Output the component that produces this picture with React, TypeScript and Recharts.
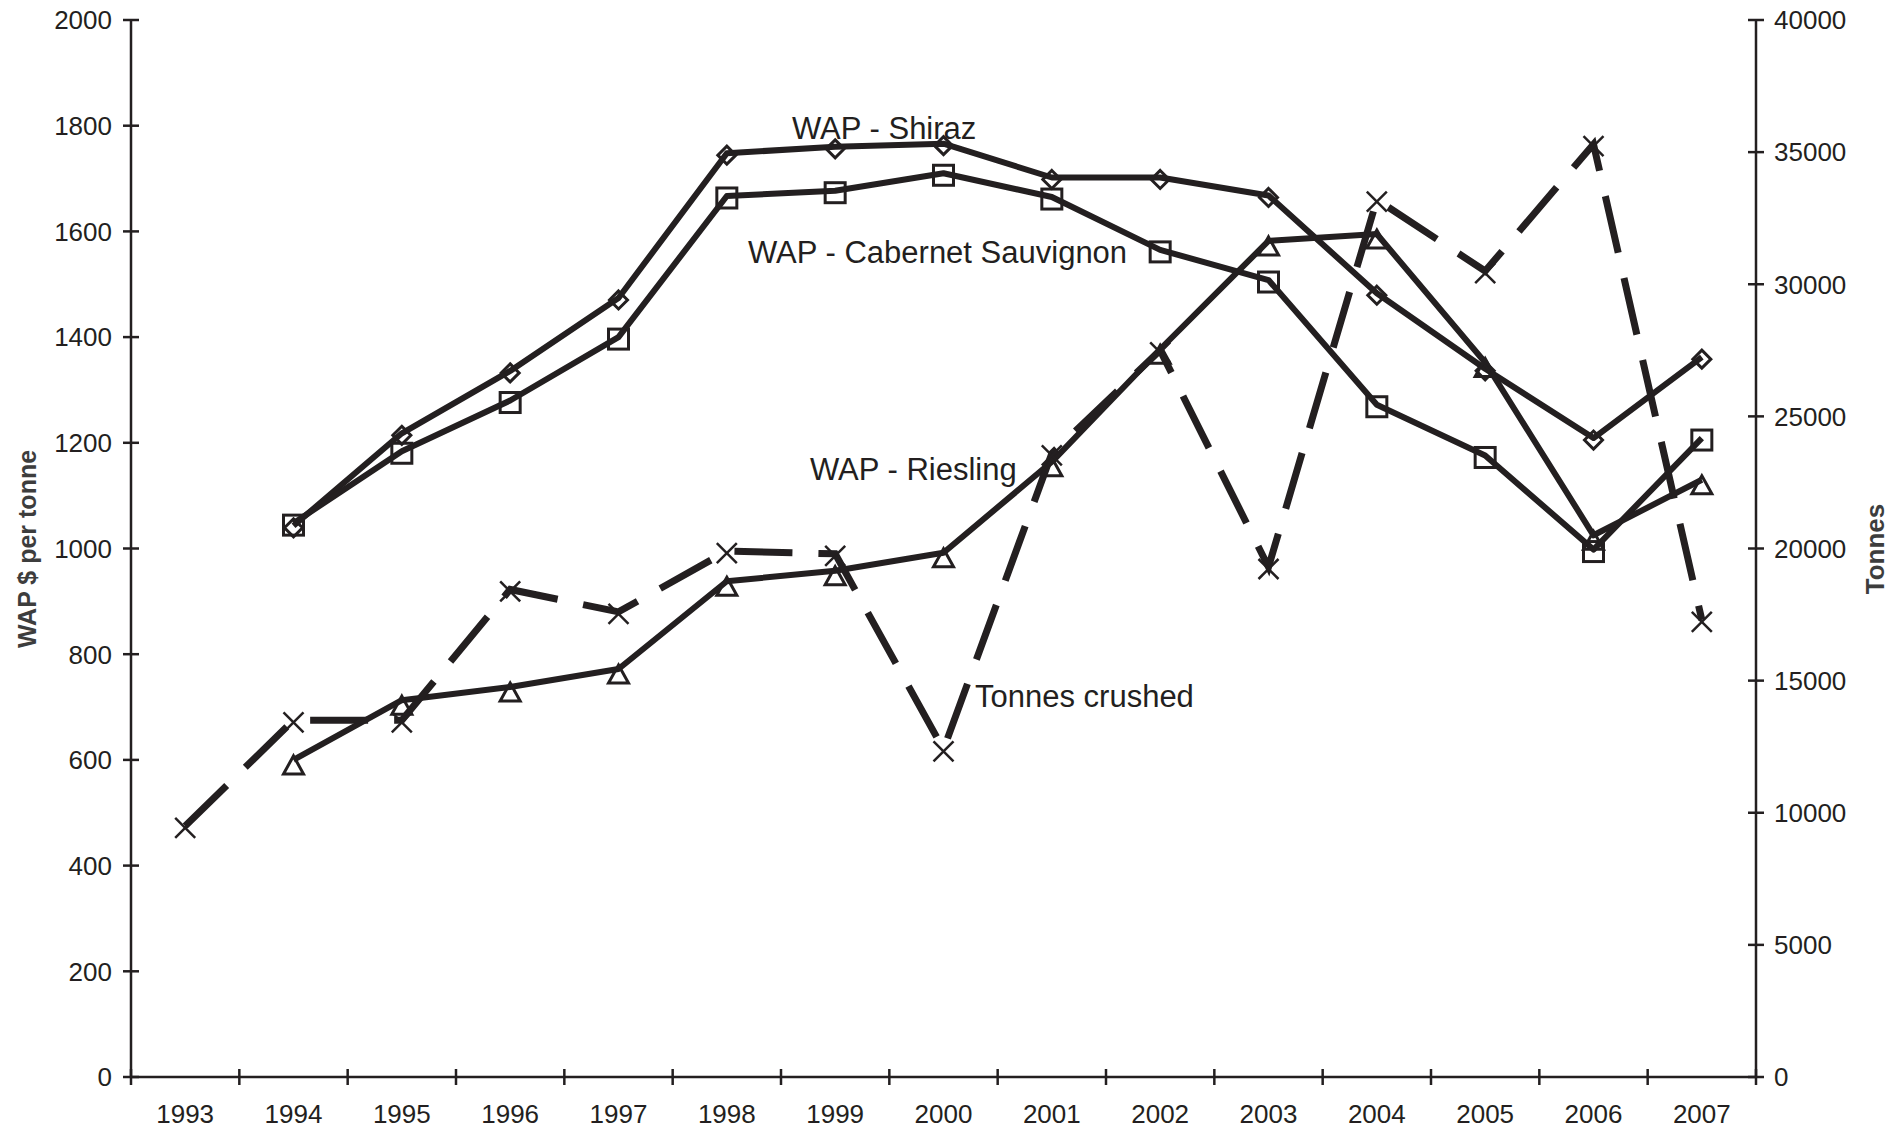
import { LineChart, Line, XAxis, YAxis } from 'recharts';

// values
const years = ['1993', '1994', '1995', '1996', '1997', '1998', '1999', '2000', '2001', '2002', '2003', '2004', '2005', '2006', '2007'];
const shiraz = [null, 1043, 1218, 1336, 1474, 1748, 1760, 1766, 1702, 1702, 1668, 1483, 1340, 1209, 1362];
const cabernet = [null, 1048, 1184, 1280, 1400, 1667, 1677, 1710, 1665, 1565, 1508, 1272, 1176, 998, 1209];
const riesling = [null, 600, 713, 738, 772, 938, 958, 992, 1164, 1377, 1582, 1595, 1352, 1025, 1130];
const tonnes = [9500, 13500, 13500, 18450, 17600, 19900, 19800, 12400, 23600, 27500, 19300, 33200, 30500, 35300, 17300];

const leftTicks = [0, 200, 400, 600, 800, 1000, 1200, 1400, 1600, 1800, 2000];
const rightTicks = [0, 5000, 10000, 15000, 20000, 25000, 30000, 35000, 40000];

const data = years.map((year, i) => ({
  year,
  shiraz: shiraz[i],
  cabernet: cabernet[i],
  riesling: riesling[i],
  tonnes: tonnes[i],
}));

const W = 1903;
const H = 1131;
const PLOT_LEFT = 131;
const PLOT_RIGHT = 1756;
const PLOT_TOP = 20;
const PLOT_BOTTOM = 1077;
const BAND = (PLOT_RIGHT - PLOT_LEFT) / years.length;

const INK = '#231f20';
const FONT = '"Liberation Sans", Arial, sans-serif';
const AXIS_W = 2.5;

const LeftTick = (props: any) => {
  const { y, payload } = props;
  return (
    <g>
      <line x1={PLOT_LEFT - 8} x2={PLOT_LEFT + 8} y1={y} y2={y} stroke={INK} strokeWidth={AXIS_W} />
      <text x={PLOT_LEFT - 19} y={y} dy="0.36em" textAnchor="end" fontSize={26} fontFamily={FONT} fill={INK}>
        {payload.value}
      </text>
    </g>
  );
};

const RightTick = (props: any) => {
  const { y, payload } = props;
  return (
    <g>
      <line x1={PLOT_RIGHT - 8} x2={PLOT_RIGHT + 8} y1={y} y2={y} stroke={INK} strokeWidth={AXIS_W} />
      <text x={PLOT_RIGHT + 18} y={y} dy="0.36em" textAnchor="start" fontSize={26} fontFamily={FONT} fill={INK}>
        {payload.value}
      </text>
    </g>
  );
};

// category boundaries get the tick marks, labels sit in the middle
const XTick = (props: any) => {
  const { x, payload } = props;
  const isLast = payload.value === years[years.length - 1];
  const b = x - BAND / 2;
  return (
    <g>
      <line x1={b} x2={b} y1={PLOT_BOTTOM - 8} y2={PLOT_BOTTOM + 8} stroke={INK} strokeWidth={AXIS_W} />
      {isLast && (
        <line x1={x + BAND / 2} x2={x + BAND / 2} y1={PLOT_BOTTOM - 8} y2={PLOT_BOTTOM + 8} stroke={INK} strokeWidth={AXIS_W} />
      )}
      <text x={x} y={PLOT_BOTTOM + 46} textAnchor="middle" fontSize={26} fontFamily={FONT} fill={INK}>
        {payload.value}
      </text>
    </g>
  );
};

const Diamond = (props: any) => {
  const { cx, cy, index } = props;
  if (cy == null) return <g key={`d${index}`} />;
  const r = 9;
  const y = cy + 2;
  return (
    <polygon
      key={`d${index}`}
      points={`${cx},${y - r} ${cx + r},${y} ${cx},${y + r} ${cx - r},${y}`}
      fill="none"
      stroke={INK}
      strokeWidth={3}
    />
  );
};

const Square = (props: any) => {
  const { cx, cy, index } = props;
  if (cy == null) return <g key={`s${index}`} />;
  const s = 20;
  return <rect key={`s${index}`} x={cx - s / 2} y={cy - s / 2 + 2} width={s} height={s} fill="none" stroke={INK} strokeWidth={3} />;
};

const Triangle = (props: any) => {
  const { cx, cy, index } = props;
  if (cy == null) return <g key={`t${index}`} />;
  return (
    <polygon
      key={`t${index}`}
      points={`${cx},${cy - 4} ${cx + 10},${cy + 14} ${cx - 10},${cy + 14}`}
      fill="none"
      stroke={INK}
      strokeWidth={3}
    />
  );
};

const Cross = (props: any) => {
  const { cx, cy, index } = props;
  if (cy == null) return <g key={`x${index}`} />;
  const r = 10;
  return (
    <g key={`x${index}`}>
      <line x1={cx - r} y1={cy - r + 2} x2={cx + r} y2={cy + r + 2} stroke={INK} strokeWidth={2.5} />
      <line x1={cx - r} y1={cy + r + 2} x2={cx + r} y2={cy - r + 2} stroke={INK} strokeWidth={2.5} />
    </g>
  );
};

const App = () => {
  return (
    <div style={{ position: 'absolute', left: 0, top: 0, width: W, height: H, background: '#fff' }}>
      <LineChart
        width={W}
        height={H}
        data={data}
        margin={{ top: PLOT_TOP, right: 0, bottom: 0, left: 0 }}
      >
        <XAxis
          dataKey="year"
          height={H - PLOT_BOTTOM}
          interval={0}
          padding={{ left: BAND / 2, right: BAND / 2 }}
          tickLine={false}
          tickSize={8}
          tickMargin={20}
          axisLine={{ stroke: INK, strokeWidth: AXIS_W }}
          tick={<XTick />}
        />
        <YAxis
          yAxisId="left"
          domain={[0, 2000]}
          ticks={leftTicks}
          interval={0}
          width={PLOT_LEFT}
          tickLine={false}
          tickSize={8}
          tickMargin={11}
          axisLine={{ stroke: INK, strokeWidth: AXIS_W }}
          tick={<LeftTick />}
        />
        <YAxis
          yAxisId="right"
          orientation="right"
          domain={[0, 40000]}
          ticks={rightTicks}
          interval={0}
          width={W - PLOT_RIGHT}
          tickLine={false}
          tickSize={8}
          tickMargin={10}
          axisLine={{ stroke: INK, strokeWidth: AXIS_W }}
          tick={<RightTick />}
        />
        <Line
          yAxisId="left"
          type="linear"
          dataKey="shiraz"
          stroke={INK}
          strokeWidth={6}
          strokeLinejoin="round"
          dot={Diamond}
          activeDot={false}
          isAnimationActive={false}
        />
        <Line
          yAxisId="left"
          type="linear"
          dataKey="cabernet"
          stroke={INK}
          strokeWidth={6}
          strokeLinejoin="round"
          dot={Square}
          activeDot={false}
          isAnimationActive={false}
        />
        <Line
          yAxisId="left"
          type="linear"
          dataKey="riesling"
          stroke={INK}
          strokeWidth={6}
          strokeLinejoin="round"
          dot={Triangle}
          activeDot={false}
          isAnimationActive={false}
        />
        <Line
          yAxisId="right"
          type="linear"
          dataKey="tonnes"
          stroke={INK}
          strokeWidth={7}
          strokeDasharray="58 26"
          strokeLinecap="butt"
          dot={Cross}
          activeDot={false}
          isAnimationActive={false}
        />
      </LineChart>
      <svg
        width={W}
        height={H}
        style={{ position: 'absolute', left: 0, top: 0, pointerEvents: 'none' }}
        fontFamily={FONT}
      >
        <text x={792} y={139} fontSize={31} fill={INK}>WAP - Shiraz</text>
        <text x={748} y={263} fontSize={31} fill={INK}>WAP - Cabernet Sauvignon</text>
        <text x={810} y={480} fontSize={31} fill={INK}>WAP - Riesling</text>
        <text x={975} y={707} fontSize={31} fill={INK}>Tonnes crushed</text>
        <text
          transform="translate(27, 549) rotate(-90)"
          textAnchor="middle"
          dy="0.36em"
          fontSize={25}
          fontWeight="bold"
          fill="#3d3d3d"
        >
          WAP $ per tonne
        </text>
        <text
          transform="translate(1875, 549) rotate(-90)"
          textAnchor="middle"
          dy="0.36em"
          fontSize={26}
          fontWeight="bold"
          fill="#3d3d3d"
        >
          Tonnes
        </text>
      </svg>
    </div>
  );
};

export default App;
